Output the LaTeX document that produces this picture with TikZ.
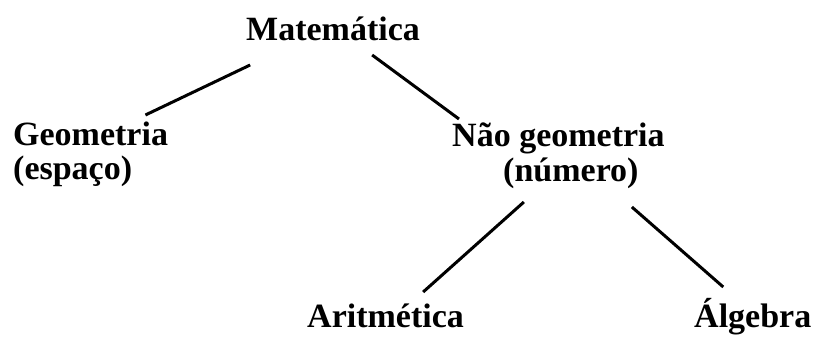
\documentclass[tikz,border=0pt]{standalone}
\usepackage{fontspec}
\setmainfont{Liberation Serif}
\usepackage{tikz}
\usetikzlibrary{
  positioning
}
\tikzset{
  term/.style={font=\fontsize{34}{40}\selectfont\bfseries, inner sep=0pt, anchor=base west},
  branch/.style={line width=3pt}
}

\begin{document}
\begin{tikzpicture}[x=1pt,y=-1pt]
    \useasboundingbox (0,0) rectangle (819,338);

    % Root
    \node[term] (mat) at (246,40) {Matemática};

    % Second level
    \node[term] (geo) at (13,145) {Geometria};
    \node[term] (esp) at (13,179) {(espaço)};
    \node[term] (ngeo) at (452,146) {Não geometria};
    \node[term] (num) at (503,181) {(número)};

    % Third level
    \node[term] (arit) at (307,327) {Aritmética};
    \node[term] (alg) at (694,327) {Álgebra};

    % Branches
    \draw[branch] ([shift={(-82.9,25)}]mat.base) -- ([shift={(-22.8,-30)}]geo.base east);
    \draw[branch] ([shift={(39.1,15)}]mat.base) -- ([shift={(7,-27)}]ngeo.base west);
    \draw[branch] ([shift={(-47,21)}]num.base) -- ([shift={(37.6,-35)}]arit.base);
    \draw[branch] ([shift={(61,26)}]num.base) -- ([shift={(-29.5,-40)}]alg.base);
\end{tikzpicture}
\end{document}
